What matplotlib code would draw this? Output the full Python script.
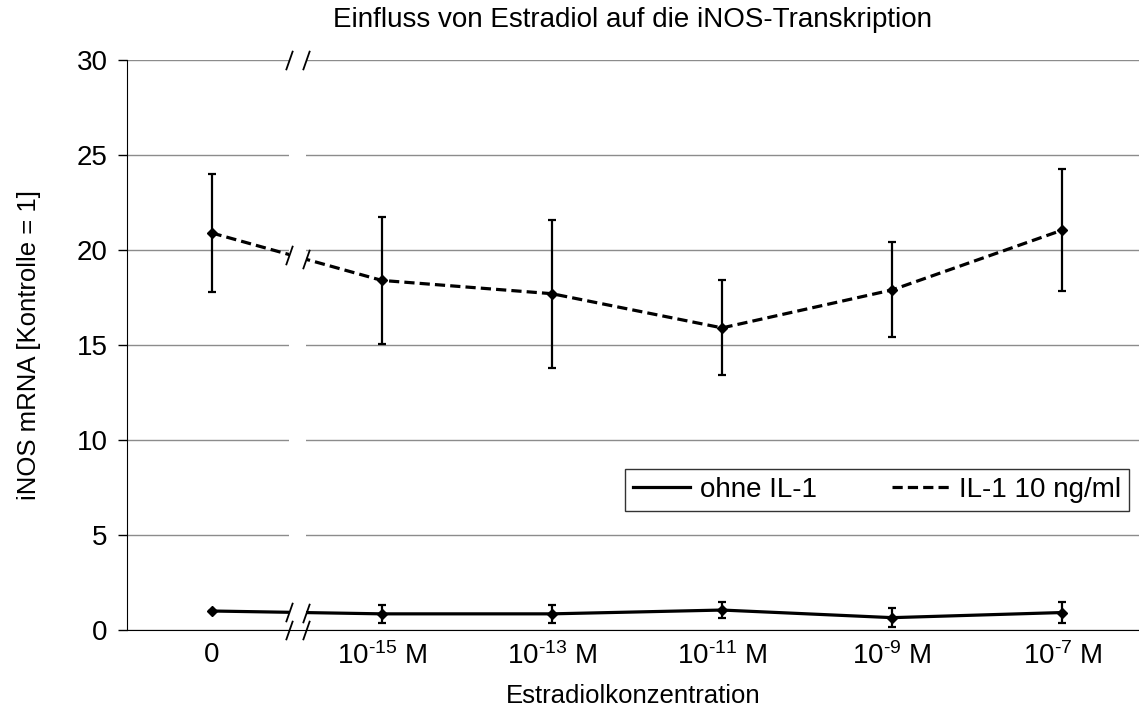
import matplotlib
matplotlib.use("Agg")
import matplotlib.pyplot as plt
import numpy as np
from matplotlib.lines import Line2D

plt.rcParams['font.family'] = ['Liberation Sans', 'DejaVu Sans']
plt.rcParams['mathtext.fontset'] = 'custom'
plt.rcParams['mathtext.rm'] = 'Liberation Sans'
plt.rcParams['mathtext.it'] = 'Liberation Sans'
plt.rcParams['mathtext.bf'] = 'Liberation Sans'

# ---- data ----
categories = ['0', r'10$^{\text{-15}}$ M', r'10$^{\text{-13}}$ M',
              r'10$^{\text{-11}}$ M', r'10$^{\text{-9}}$ M', r'10$^{\text{-7}}$ M']
il1_mean = [20.9, 18.4, 17.7, 15.9, 17.9, 21.05]
il1_err = [3.1, 3.35, 3.9, 2.5, 2.5, 3.2]
ohne_mean = [1.0, 0.85, 0.85, 1.05, 0.65, 0.92]
ohne_err = [0.0, 0.47, 0.47, 0.44, 0.5, 0.54]
yticks = [0, 5, 10, 15, 20, 25, 30]

# ---- layout ----
xpos = np.arange(len(categories))
break_lo, break_hi = 0.455, 0.555
xlim = (-0.5, 5.45)

W, H = 1139, 713
fig = plt.figure(figsize=(W / 100, H / 100), dpi=100)
ax = fig.add_axes([126.5 / W, (H - 630) / H, (W - 126.5) / W, 570 / H])

ax.set_xlim(*xlim)
ax.set_ylim(0, 30)
ax.set_yticks(yticks)
ax.set_yticklabels([str(t) for t in yticks], fontsize=20)
ax.set_xticks(xpos)
ax.set_xticklabels(categories, fontsize=20)
ax.tick_params(axis='x', length=0, pad=9)
ax.tick_params(axis='y', length=6.5, width=1, direction='out', pad=7, color='black')
ax.yaxis.grid(True, color='#8c8c8c', lw=1)
ax.set_axisbelow(True)
for s in ['top', 'right']:
    ax.spines[s].set_visible(False)
ax.spines['left'].set_color('black')
ax.spines['bottom'].set_color('black')
ax.spines['bottom'].set_zorder(6)

lw = 2.3
dash = (0, (3.2, 1.6))
ax.errorbar(xpos, ohne_mean, yerr=ohne_err, color='black', lw=lw, ls='-',
            marker='D', ms=5, capsize=3.2, elinewidth=1.6, capthick=1.6, zorder=3)
ax.errorbar(xpos, il1_mean, yerr=il1_err, color='black', lw=lw, ls=dash,
            marker='D', ms=5, capsize=3.2, elinewidth=1.6, capthick=1.6, zorder=3)

# white gap for axis break
ax.axvspan(break_lo, break_hi, color='white', zorder=4, lw=0)

slash = [(-0.35, -1), (0.35, 1)]
def interp(series, xb):
    return series[0] + (xb - xpos[0]) / (xpos[1] - xpos[0]) * (series[1] - series[0])

for xb in (break_lo, break_hi):
    for series in (ohne_mean, il1_mean):
        ax.plot([xb], [interp(series, xb)], marker=slash, ms=14, mew=1.3,
                color='black', zorder=5, clip_on=False)
    ax.plot([xb], [30], marker=slash, ms=14, mew=1.3, color='black', zorder=5, clip_on=False)
    ax.plot([xb], [0], marker=slash, ms=14, mew=1.3, color='black', zorder=7, clip_on=False)

handles = [Line2D([], [], color='black', lw=lw, ls='-'),
           Line2D([], [], color='black', lw=lw, ls=dash)]
aw = W - 126.5
leg = ax.legend(handles, ['ohne IL-1', 'IL-1 10 ng/ml'], ncol=2, fontsize=20,
                loc='center', mode='expand',
                bbox_to_anchor=((625 - 126.5) / aw, (630 - 513) / 570, 504 / aw, 46 / 570),
                frameon=True, fancybox=False, edgecolor='black', handlelength=2.05,
                columnspacing=1.3, borderpad=0.3, handletextpad=0.35, borderaxespad=0)
leg.get_frame().set_linewidth(1)
leg.set_zorder(8)

ax.set_title('Einfluss von Estradiol auf die iNOS-Transkription', fontsize=20, pad=24)
ax.set_ylabel('iNOS mRNA [Kontrolle = 1]', fontsize=18.5, labelpad=26)
ax.set_xlabel('Estradiolkonzentration', fontsize=18.5, labelpad=10)

fig.savefig('out.png', dpi=100)
